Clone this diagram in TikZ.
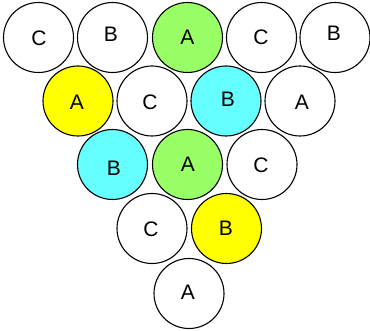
\documentclass[tikz,border=0pt]{standalone}
\usepackage{fontspec}
\setmainfont{Liberation Sans}
\definecolor{gA}{HTML}{99FF66}
\definecolor{yB}{HTML}{FFFF00}
\definecolor{cB}{HTML}{66FFFF}
\begin{document}
\begin{tikzpicture}[x=1pt,y=-1pt,
  ball/.style={circle,draw=black,line width=1.1pt,minimum size=70pt,inner sep=0pt,fill=white},
  lbl/.style={font=\fontsize{21}{24}\selectfont,inner sep=0pt,text height=15pt,text depth=0pt}]
\useasboundingbox (0,0) rectangle (370,331);
% row 1
\node[ball] (a1) at (38.5,37.5) {};
\node[ball] (a2) at (112.5,37.5) {};
\node[ball,fill=gA] (a3) at (187.5,37.5) {};
\node[ball] (a4) at (261.5,37.5) {};
\node[ball] (a5) at (335,37.5) {};
% row 2
\node[ball,fill=yB] (b1) at (78,101) {};
\node[ball] (b2) at (152,101) {};
\node[ball,fill=cB] (b3) at (226,101) {};
\node[ball] (b4) at (300,101) {};
% row 3
\node[ball,fill=cB] (c1) at (112.5,164.5) {};
\node[ball,fill=gA] (c2) at (187.5,164.5) {};
\node[ball] (c3) at (262,164.5) {};
% row 4
\node[ball] (d1) at (152,228.5) {};
\node[ball,fill=yB] (d2) at (226.5,228.5) {};
% row 5
\node[ball] (e1) at (189,293.5) {};
% labels
\node[lbl] at ([shift={(0.5,0.5)}]a1) {C};
\node[lbl] at ([shift={(-1.5,-3.5)}]a2) {B};
\node[lbl] at ([shift={(0,-0.5)}]a3) {A};
\node[lbl] at ([shift={(-0.5,0)}]a4) {C};
\node[lbl] at ([shift={(-1,-4.5)}]a5) {B};
\node[lbl] at ([shift={(-1,1)}]b1) {A};
\node[lbl] at ([shift={(-2,1)}]b2) {C};
\node[lbl] at ([shift={(2,-2)}]b3) {B};
\node[lbl] at ([shift={(2,1)}]b4) {A};
\node[lbl] at ([shift={(1.5,3.5)}]c1) {B};
\node[lbl] at ([shift={(0.5,-0.5)}]c2) {A};
\node[lbl] at ([shift={(-1,0.5)}]c3) {C};
\node[lbl] at ([shift={(-1,0.5)}]d1) {C};
\node[lbl] at ([shift={(-0.5,-0.5)}]d2) {B};
\node[lbl] at ([shift={(-1,-1.5)}]e1) {A};
\end{tikzpicture}
\end{document}
